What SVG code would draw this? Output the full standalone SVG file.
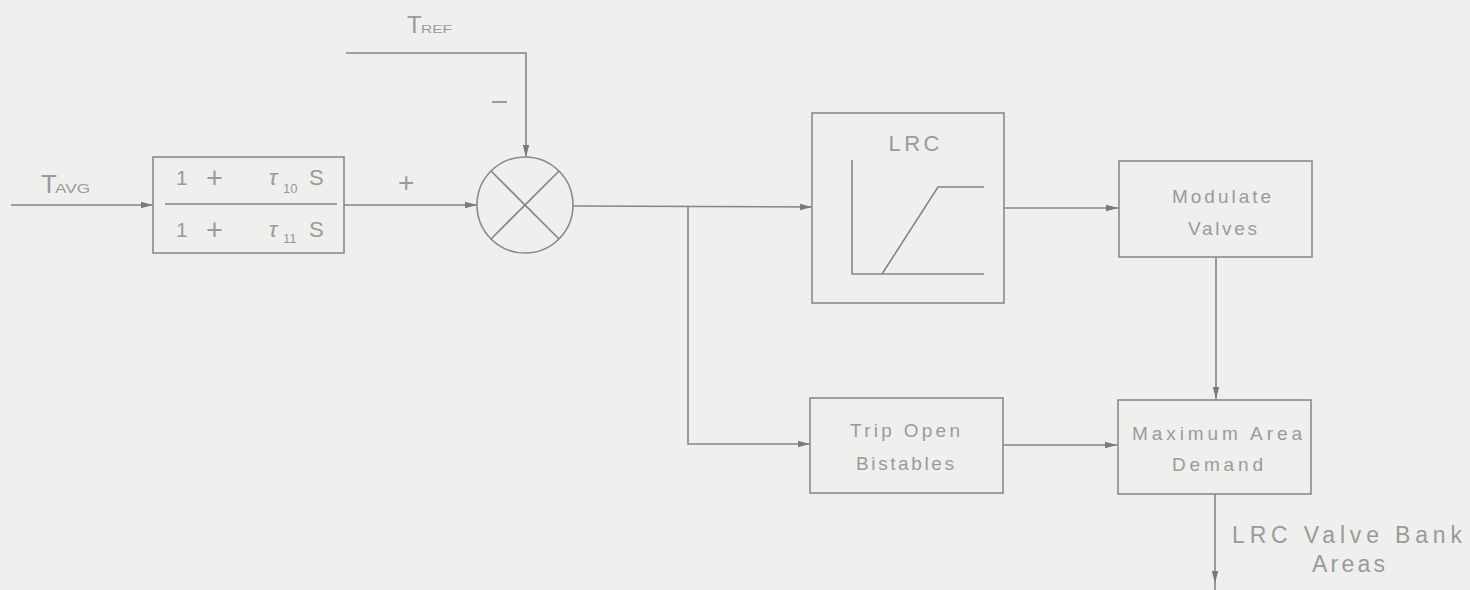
<svg xmlns="http://www.w3.org/2000/svg" width="1470" height="590" viewBox="0 0 1470 590">
<defs>
<style>
.ln{fill:none;stroke:#858585;stroke-width:1.6}
.bx{fill:none;stroke:#8a8a8a;stroke-width:1.6}
.t{font-family:"Liberation Sans",Arial,sans-serif;fill:#9a9a9a}
.lbl{font-size:19px}
.big{font-size:22px}
</style>
<marker id="ah" viewBox="0 0 12 8" refX="12" refY="4" markerWidth="12" markerHeight="8" markerUnits="userSpaceOnUse" orient="auto">
<path d="M0,0.8 L12,4 L0,7.2 z" fill="#7a7a7a"/>
</marker>
</defs>
<rect width="1470" height="590" fill="#efefed"/>

<g id="connectors">
<line class="ln" x1="11" y1="205" x2="153" y2="205" marker-end="url(#ah)"/>
<line class="ln" x1="344" y1="205" x2="477" y2="205" marker-end="url(#ah)"/>
<polyline class="ln" points="346,53 526,53 526,157" marker-end="url(#ah)"/>
<line class="ln" x1="573" y1="206" x2="812" y2="207" marker-end="url(#ah)"/>
<polyline class="ln" points="688,207 688,444 810,444" marker-end="url(#ah)"/>
<line class="ln" x1="1004" y1="208" x2="1118" y2="208" marker-end="url(#ah)"/>
<line class="ln" x1="1003" y1="445" x2="1117" y2="445" marker-end="url(#ah)"/>
<line class="ln" x1="1216" y1="257" x2="1216" y2="399" marker-end="url(#ah)"/>
<line class="ln" x1="1215" y1="494" x2="1215" y2="583" marker-end="url(#ah)"/>
<line class="ln" x1="1215" y1="583" x2="1215" y2="590"/>
</g>

<g id="label-tavg">
<text class="t" x="41" y="193" font-size="26">T</text>
<text class="t" x="55" y="193" font-size="12" textLength="35" lengthAdjust="spacingAndGlyphs">AVG</text>
</g>

<g id="label-tref">
<text class="t" x="407" y="33" font-size="24">T</text>
<text class="t" x="421" y="33" font-size="11" textLength="31" lengthAdjust="spacingAndGlyphs">REF</text>
</g>

<g id="transfer-function">
<rect class="bx" x="153" y="157" width="191" height="96"/>
<line class="ln" x1="165" y1="204" x2="337" y2="204"/>
<text class="t" x="176" y="185" font-size="21">1</text>
<text class="t" x="206" y="188" font-size="29">+</text>
<text class="t" x="269" y="185" font-size="22" font-style="italic" font-family="Liberation Serif,serif">τ</text>
<text class="t" x="283" y="193" font-size="13">10</text>
<text class="t" x="309" y="185" font-size="22">S</text>
<text class="t" x="176" y="237" font-size="21">1</text>
<text class="t" x="206" y="240" font-size="29">+</text>
<text class="t" x="269" y="237" font-size="22" font-style="italic" font-family="Liberation Serif,serif">τ</text>
<text class="t" x="283" y="243" font-size="13">11</text>
<text class="t" x="309" y="237" font-size="22">S</text>
</g>

<g id="plus-sign">
<text class="t" x="398" y="192" font-size="28">+</text>
</g>
<g id="minus-sign">
<line class="ln" x1="492" y1="102" x2="507" y2="102" stroke="#a0a0a0"/>
</g>

<g id="summing-junction">
<ellipse class="bx" cx="525" cy="205" rx="48" ry="48"/>
<line class="ln" x1="491" y1="171" x2="559" y2="239"/>
<line class="ln" x1="559" y1="171" x2="491" y2="239"/>
</g>

<g id="lrc">
<rect class="bx" x="812" y="113" width="192" height="190"/>
<text class="t big" x="914" y="151" text-anchor="middle" textLength="51" lengthAdjust="spacing">LRC</text>
<polyline class="ln" points="852,160 852,274 984,274"/>
<polyline class="ln" points="882,274 938,187 984,187"/>
</g>

<g id="modulate-valves">
<rect class="bx" x="1119" y="161" width="193" height="96"/>
<text class="t lbl" x="1172" y="203" textLength="99" lengthAdjust="spacing">Modulate</text>
<text class="t lbl" x="1188" y="235" textLength="69" lengthAdjust="spacing">Valves</text>
</g>

<g id="trip-open-bistables">
<rect class="bx" x="810" y="398" width="193" height="95"/>
<text class="t lbl" x="850" y="437" textLength="110" lengthAdjust="spacing">Trip Open</text>
<text class="t lbl" x="856" y="470" textLength="98" lengthAdjust="spacing">Bistables</text>
</g>

<g id="maximum-area-demand">
<rect class="bx" x="1118" y="400" width="193" height="94"/>
<text class="t lbl" x="1132" y="440" textLength="170" lengthAdjust="spacing">Maximum Area</text>
<text class="t lbl" x="1172" y="471" textLength="91" lengthAdjust="spacing">Demand</text>
</g>

<g id="label-output">
<text class="t" x="1232" y="543" font-size="23" textLength="230" lengthAdjust="spacing">LRC Valve Bank</text>
<text class="t" x="1312" y="572" font-size="23" textLength="73" lengthAdjust="spacing">Areas</text>
</g>
</svg>
